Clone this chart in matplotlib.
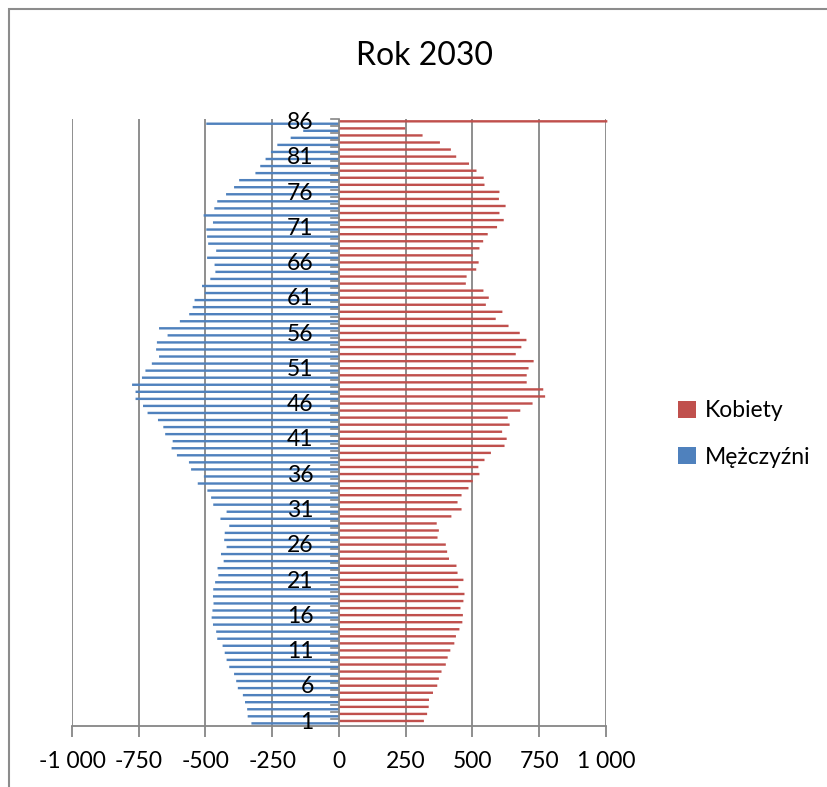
import numpy as np
import matplotlib
matplotlib.use('Agg')
import matplotlib.pyplot as plt
from matplotlib.patches import Rectangle

plt.rcParams['font.family'] = ['Lato', 'DejaVu Sans']

# age groups 1..86 (bottom to top)
ages = list(range(1, 87))
men = [328, 342, 344, 352, 360, 379, 385, 393, 411, 421,
       428, 436, 456, 460, 472, 477, 474, 470, 472, 471,
       464, 452, 455, 432, 442, 421, 430, 428, 411, 444,
       421, 471, 479, 493, 529, 506, 554, 562, 607, 627,
       623, 651, 658, 678, 717, 734, 762, 762, 775, 738,
       725, 701, 674, 685, 682, 642, 674, 596, 561, 548,
       541, 503, 513, 482, 463, 466, 494, 460, 490, 494,
       497, 472, 507, 467, 456, 423, 393, 374, 313, 295,
       275, 255, 231, 181, 134, 497]
women = [318, 330, 336, 337, 352, 368, 374, 384, 400, 407,
         417, 432, 438, 451, 462, 464, 455, 466, 470, 447,
         466, 444, 440, 412, 405, 400, 369, 374, 366, 421,
         459, 444, 459, 485, 501, 526, 522, 545, 569, 620,
         628, 611, 639, 632, 679, 725, 772, 765, 703, 703,
         710, 729, 662, 683, 702, 677, 635, 587, 612, 550,
         561, 541, 475, 478, 514, 523, 501, 526, 540, 557,
         592, 617, 601, 624, 599, 601, 545, 542, 515, 487,
         439, 419, 378, 313, 248, 1005]
x_ticks = [-1000, -750, -500, -250, 0, 250, 500, 750, 1000]
x_labels = ['-1 000', '-750', '-500', '-250', '0', '250', '500', '750', '1 000']

blue = '#4F81BD'
red = '#C0504D'
grid_c = '#868686'

W, H = 828, 787
fig = plt.figure(figsize=(W / 100, H / 100), dpi=100)

# chart border
fig.patches.append(Rectangle((8.5 / W, -0.1), 1.2, 1 - 8.5 / H + 0.1, transform=fig.transFigure,
                             fill=False, edgecolor='#8c8c8c', linewidth=1.5))

left, right, bottom, top = 72, 606, 725.7, 119
ax = fig.add_axes([left / W, 1 - bottom / H, (right - left) / W, (bottom - top) / H])

y = np.array(ages)
mbars = ax.barh(y - 0.17, [-v for v in men], height=0.34, color=blue, label='Mężczyźni', zorder=3)
wbars = ax.barh(y + 0.17, women, height=0.34, color=red, label='Kobiety', zorder=3)
for b in list(mbars) + list(wbars):
    b.set_snap(False)
    b.set_clip_on(False)

ax.set_xlim(-1000, 1000)
ax.set_ylim(0.5, 86.5)

for xv in x_ticks:
    if xv != 0:
        ax.axvline(xv, color=grid_c, linewidth=1.3, zorder=1)
ax.axvline(0, color=grid_c, linewidth=1.3, zorder=4)

for s in ['top', 'right', 'left']:
    ax.spines[s].set_visible(False)
ax.spines['bottom'].set_color(grid_c)
ax.spines['bottom'].set_linewidth(1.3)

ax.set_xticks(x_ticks)
ax.set_xticklabels(x_labels, fontsize=16.5)
ax.tick_params(axis='x', length=8, width=1.3, color=grid_c, pad=10)
ax.set_yticks([])

# category axis ticks at boundaries along x=0
tick_len = 8 / (right - left) * 2000
for b in np.arange(0.5, 87, 1):
    ax.plot([-tick_len, 0], [b, b], color=grid_c, linewidth=1.2, zorder=4, clip_on=False)
for a in ages[::5]:
    ax.text(-95, a, str(a), ha='right', va='center', fontsize=16.5, zorder=5)

fig.text(424 / W, 1 - 56 / H, 'Rok 2030', ha='center', va='center', fontsize=23)

h, l = ax.get_legend_handles_labels()
fig.legend(h[::-1], l[::-1], loc='center left', bbox_to_anchor=(657 / W, 1 - 434 / H),
           frameon=False, fontsize=16.5, handlelength=0.8, handleheight=0.8,
           handletextpad=0.4, labelspacing=1.1)

fig.savefig('out.png', dpi=100)
